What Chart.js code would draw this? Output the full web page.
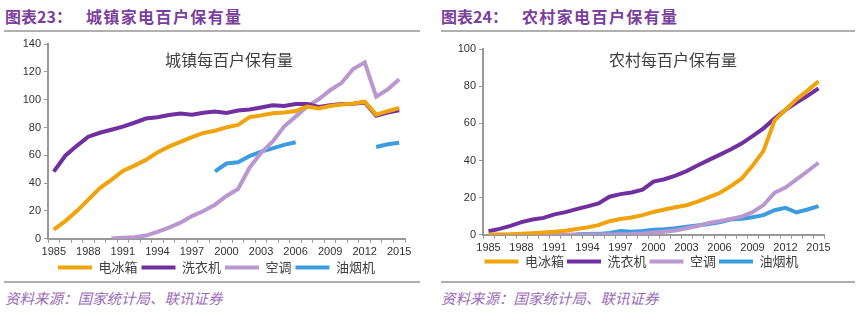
<!DOCTYPE html>
<html>
<head>
<meta charset="utf-8">
<script src="https://cdn.jsdelivr.net/npm/chart.js@4.4.1/dist/chart.umd.min.js"></script>
<style>
  body { margin: 0; width: 866px; height: 321px; background: #fff; position: relative; overflow: hidden;
         font-family: "Noto Sans CJK SC", "Liberation Sans", sans-serif; }
  .head { position: absolute; top: 4px; font-size: 16px; font-weight: bold; color: #7b3f9e; white-space: nowrap; }
  .head span { margin-left: 14px; letter-spacing: 1.4px; }
  .rule { position: absolute; height: 0; border-top: 2px solid #b0b0b0; }
  .inner { position: absolute; top: 47px; font-size: 16px; color: #404040; white-space: nowrap; }
  .src { position: absolute; top: 287px; font-size: 14.5px; font-style: italic; color: #9a6bb8; white-space: nowrap; }
  .box { position: absolute; }
</style>
</head>
<body>
<div class="head" style="left:5px">图表23：<span>城镇家电百户保有量</span></div>
<div class="head" style="left:441px">图表24：<span>农村家电百户保有量</span></div>
<div class="rule" style="left:4px; width:416px; top:30px"></div>
<div class="rule" style="left:441px; width:414px; top:30px"></div>

<div class="box" style="left:0px; top:30px; width:420px; height:254px"><canvas id="urban"></canvas></div>
<div class="box" style="left:435px; top:30px; width:400px; height:248px"><canvas id="rural"></canvas></div>

<div class="inner" style="left:165px">城镇每百户保有量</div>
<div class="inner" style="left:609px">农村每百户保有量</div>

<div class="rule" style="left:4px; width:416px; top:281px"></div>
<div class="rule" style="left:441px; width:414px; top:281px"></div>
<div class="src" style="left:5px">资料来源：国家统计局、联讯证券</div>
<div class="src" style="left:441px">资料来源：国家统计局、联讯证券</div>

<script>
const years = ['1985','1986','1987','1988','1989','1990','1991','1992','1993','1994',
  '1995','1996','1997','1998','1999','2000','2001','2002','2003','2004',
  '2005','2006','2007','2008','2009','2010','2011','2012','2013','2014','2015'];
const seriesNames = ['电冰箱', '洗衣机', '空调', '油烟机'];

// 城镇
const urbanFridge = [6.6,12.7,19.9,28.1,36.5,42.3,48.7,52.6,56.7,62.1,66.2,69.7,73.0,76.1,77.7,
  80.1,81.9,87.4,88.7,90.2,90.7,91.8,95.0,93.6,95.4,96.6,97.2,98.5,89.2,91.7,94.0];
const urbanWasher = [48.3,59.7,66.8,73.4,76.2,78.4,80.6,83.4,86.4,87.3,89.0,90.1,89.1,90.6,91.4,
  90.5,92.2,92.9,94.4,95.9,95.5,96.8,96.8,94.7,96.0,96.9,97.1,98.0,88.4,90.7,92.3];
const urbanAC = [null,null,null,null,null,0.3,0.7,1.2,2.3,5.0,8.1,11.6,16.3,20.0,24.5,
  30.8,35.8,51.1,61.8,69.8,80.7,87.8,95.1,100.3,106.8,112.1,122.0,126.8,102.2,107.4,114.6];
const urbanHood = [null,null,null,null,null,null,null,null,null,null,null,null,null,null,48.5,
  54.1,55.0,59.5,62.7,65.0,67.5,69.4,null,null,null,null,null,null,66.0,68.0,69.0];

// 农村
const ruralFridge = [0.1,0.2,0.3,0.6,0.9,1.2,1.6,2.2,3.1,4.0,5.2,7.3,8.5,9.3,10.6,
  12.3,13.6,14.8,15.9,17.8,20.1,22.5,26.1,30.2,37.1,45.2,61.5,67.3,72.9,77.6,82.6];
const ruralWasher = [1.9,3.2,4.8,6.8,8.2,9.1,11.0,12.2,13.8,15.3,16.9,20.5,21.9,22.8,24.3,
  28.6,29.9,31.8,34.3,37.3,40.2,43.0,45.9,49.1,53.1,57.3,62.6,67.2,71.2,74.8,78.8];
const ruralAC = [0,0,0,0,0,0,0,0,0.1,0.1,0.2,0.2,0.3,0.4,0.7,
  1.3,1.7,2.3,3.5,4.7,6.4,7.3,8.5,9.8,12.2,16.0,22.6,25.4,29.8,34.2,38.8];
const ruralHood = [null,null,null,null,null,null,null,null,0.3,0.4,0.5,1.0,2.0,1.7,2.0,
  2.7,3.0,3.5,4.3,5.0,5.8,6.8,8.2,8.6,9.4,10.6,13.2,14.5,12.0,13.6,15.4];

const colors = ['#f0a30a', '#7030a0', '#b898cf', '#3d9be0'];

// nudges the legend block sideways after layout
const legendShift = {
  id: 'legendShift',
  afterLayout(chart, args, opts) {
    if (chart.legend) {
      chart.legend.left += opts.dx;
      chart.legend.right += opts.dx;
    }
  }
};

function makeChart(id, data, yMax, padTop, padRight, legendPad, xShrink, legendDx) {
  new Chart(document.getElementById(id), {
    type: 'line',
    data: {
      labels: years,
      datasets: data.map((values, i) => ({
        label: seriesNames[i],
        data: values,
        borderColor: colors[i],
        backgroundColor: colors[i],
        borderWidth: 4,
        pointRadius: 0,
        tension: 0,
        spanGaps: false
      }))
    },
    plugins: [legendShift],
    options: {
      responsive: true,
      maintainAspectRatio: false,
      animation: false,
      layout: { padding: { left: 0, right: padRight, top: padTop, bottom: 0 } },
      plugins: {
        legendShift: { dx: legendDx },
        legend: {
          position: 'bottom',
          labels: {
            boxWidth: 34, boxHeight: 4, padding: legendPad,
            color: '#404040',
            font: { family: 'Noto Sans CJK SC', size: 13 },
            // plain filled bars, no outline
            generateLabels: function (chart) {
              return Chart.defaults.plugins.legend.labels.generateLabels(chart)
                .map(item => Object.assign(item, { lineWidth: 0 }));
            }
          }
        },
        tooltip: { enabled: false }
      },
      scales: {
        x: {
          offset: true,
          // let the year labels sit closer to the legend
          afterFit: function (scale) { scale.height -= xShrink; },
          grid: { offset: true, drawOnChartArea: false, color: '#999', tickLength: 4, lineWidth: 1 },
          border: { color: '#999', width: 2 },
          ticks: {
            autoSkip: false, maxRotation: 0, padding: 3,
            color: '#333', font: { family: 'Liberation Sans', size: 11 },
            callback: function (v, i) { return i % 3 === 0 ? years[i] : ''; }
          }
        },
        y: {
          min: 0, max: yMax,
          afterFit: function (scale) { scale.width = 48; },
          grid: { drawOnChartArea: false, color: '#999', tickLength: 4 },
          border: { color: '#999', width: 2 },
          ticks: { stepSize: 20, padding: 3, color: '#333', font: { family: 'Liberation Sans', size: 11 } }
        }
      }
    }
  });
}

makeChart('urban', [urbanFridge, urbanWasher, urbanAC, urbanHood], 140, 14, 15, 4, 5, 14);
makeChart('rural', [ruralFridge, ruralWasher, ruralAC, ruralHood], 100, 19, 11, 3, 6, 12);
</script>
</body>
</html>
